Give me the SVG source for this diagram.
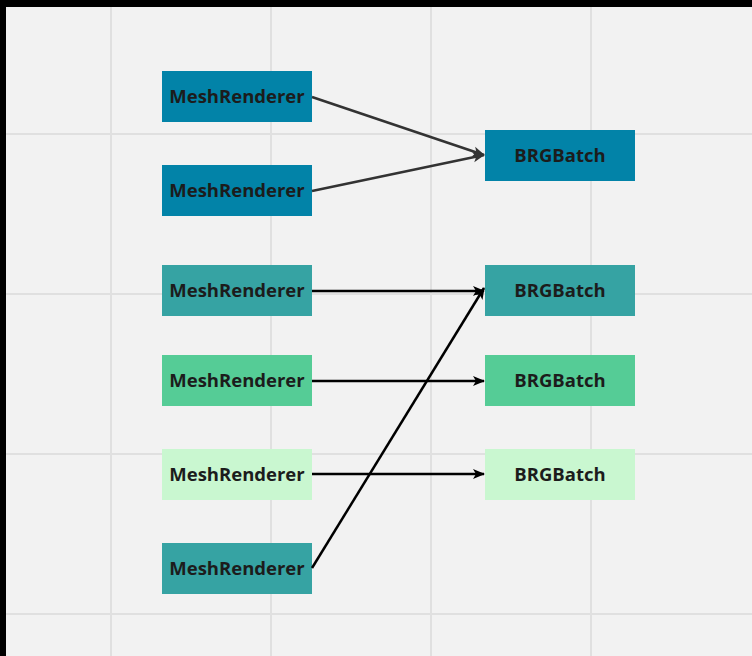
<svg xmlns="http://www.w3.org/2000/svg" width="752" height="656" viewBox="0 0 752 656">
<defs>
<style>
.grid{stroke:#e0e0e0;stroke-width:2}
.lbl{font-family:"Open Sans","Noto Sans",sans-serif;font-weight:700;font-size:18.5px;fill:#1c1c1c;text-anchor:middle;dominant-baseline:central}
.c1{fill:#0283a8}
.c2{fill:#36a3a3}
.c3{fill:#55cc96}
.c4{fill:#c9f7d0}
.edge{fill:none;stroke-width:2.5}
</style>
<marker id="ah" viewBox="0 0 12 12" refX="11" refY="6" markerWidth="12" markerHeight="12" markerUnits="userSpaceOnUse" orient="auto"><path d="M0,1 L12,6 L0,11 L3,6 z" fill="#000"/></marker>
<marker id="ahg" viewBox="0 0 12 12" refX="11" refY="6" markerWidth="12" markerHeight="12" markerUnits="userSpaceOnUse" orient="auto"><path d="M0,1 L12,6 L0,11 L3,6 z" fill="#333"/></marker>
</defs>
<rect width="752" height="656" fill="#000"/>
<rect x="6" y="7" width="746" height="649" fill="#f2f2f2"/>
<g id="grid">
<line class="grid" x1="111" y1="7" x2="111" y2="656"/>
<line class="grid" x1="271" y1="7" x2="271" y2="656"/>
<line class="grid" x1="431" y1="7" x2="431" y2="656"/>
<line class="grid" x1="591" y1="7" x2="591" y2="656"/>
<line class="grid" x1="6" y1="134" x2="752" y2="134"/>
<line class="grid" x1="6" y1="294" x2="752" y2="294"/>
<line class="grid" x1="6" y1="454" x2="752" y2="454"/>
<line class="grid" x1="6" y1="614" x2="752" y2="614"/>
</g>
<g id="m1"><rect class="c1" x="162" y="71" width="150" height="51"/><text class="lbl" x="237" y="95.5">MeshRenderer</text></g>
<g id="m2"><rect class="c1" x="162" y="165" width="150" height="51"/><text class="lbl" x="237" y="189.5">MeshRenderer</text></g>
<g id="m3"><rect class="c2" x="162" y="265" width="150" height="51"/><text class="lbl" x="237" y="289.5">MeshRenderer</text></g>
<g id="m4"><rect class="c3" x="162" y="355" width="150" height="51"/><text class="lbl" x="237" y="379.5">MeshRenderer</text></g>
<g id="m5"><rect class="c4" x="162" y="449" width="150" height="51"/><text class="lbl" x="237" y="473.5">MeshRenderer</text></g>
<g id="m6"><rect class="c2" x="162" y="543" width="150" height="51"/><text class="lbl" x="237" y="567.5">MeshRenderer</text></g>
<g id="b1"><rect class="c1" x="485" y="130" width="150" height="51"/><text class="lbl" x="560" y="154.5">BRGBatch</text></g>
<g id="b2"><rect class="c2" x="485" y="265" width="150" height="51"/><text class="lbl" x="560" y="289.5">BRGBatch</text></g>
<g id="b3"><rect class="c3" x="485" y="355" width="150" height="51"/><text class="lbl" x="560" y="379.5">BRGBatch</text></g>
<g id="b4"><rect class="c4" x="485" y="449" width="150" height="51"/><text class="lbl" x="560" y="473.5">BRGBatch</text></g>
<g id="connectors">
<path class="edge" stroke="#333" d="M312,97 L484,155" marker-end="url(#ahg)"/>
<path class="edge" stroke="#333" d="M312,191 L484,155" marker-end="url(#ahg)"/>
<path class="edge" stroke="#000" d="M312,291 L484,291" marker-end="url(#ah)"/>
<path class="edge" stroke="#000" d="M312,381 L484,381" marker-end="url(#ah)"/>
<path class="edge" stroke="#000" d="M312,474 L484,474" marker-end="url(#ah)"/>
<path class="edge" stroke="#000" d="M312,568 L484,288" marker-end="url(#ah)"/>
</g>
</svg>
